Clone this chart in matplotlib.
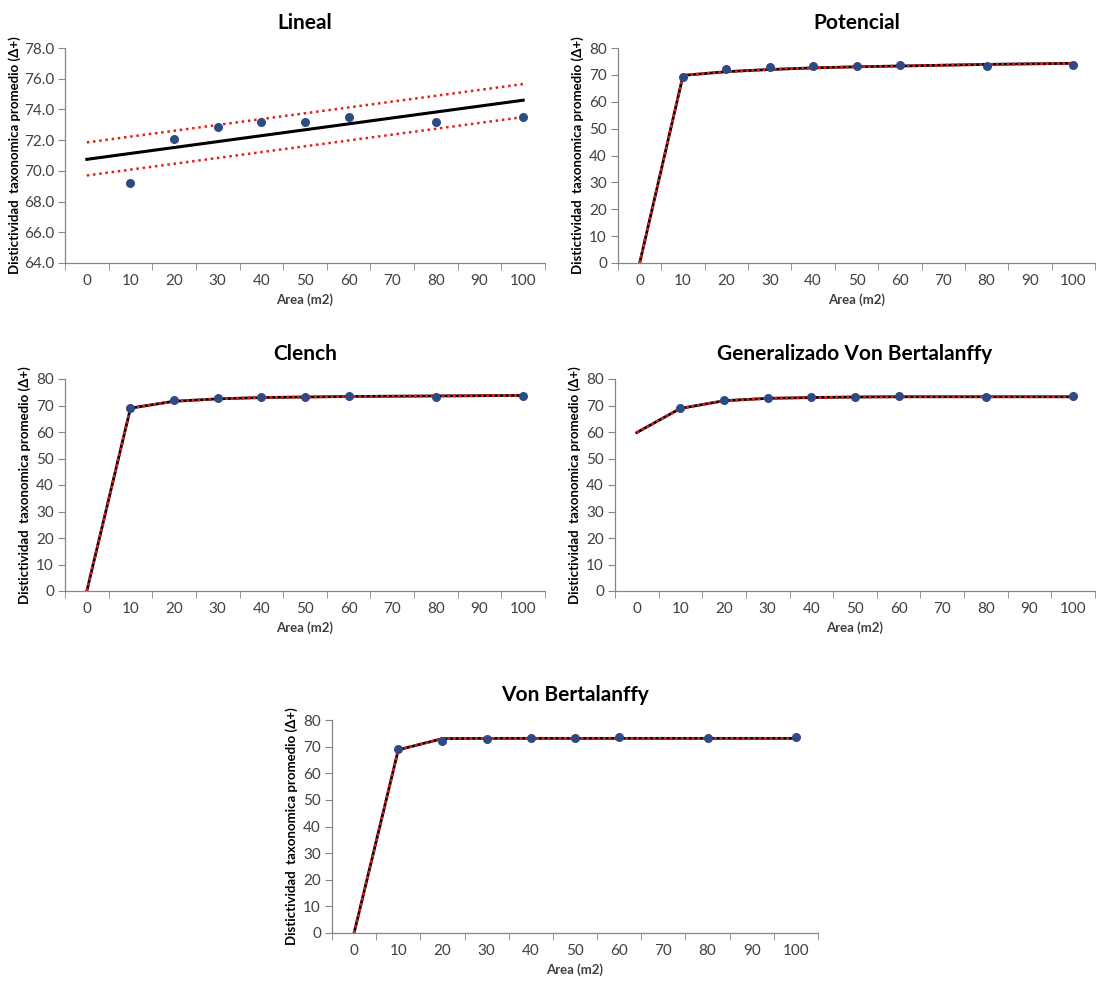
import matplotlib
matplotlib.use("Agg")
import matplotlib.pyplot as plt
from matplotlib.ticker import FormatStrFormatter

plt.rcParams['font.family'] = ['Lato', 'DejaVu Sans']

categories = [0, 10, 20, 30, 40, 50, 60, 70, 80, 90, 100]
obs_area = [10, 20, 30, 40, 50, 60, 80, 100]
obs_delta = [69.2, 72.1, 72.85, 73.15, 73.2, 73.5, 73.2, 73.5]

lineal_area = [0, 100]
lineal_fit = [70.75, 74.6]
lineal_upper = [71.85, 75.65]
lineal_lower = [69.7, 73.5]

potencial_fit = [0, 69.8, 71.2, 72.0, 72.6, 73.0, 73.3, 73.6, 73.9, 74.1, 74.3]
clench_fit = [0, 69.0, 71.6, 72.5, 73.0, 73.2, 73.4, 73.5, 73.6, 73.7, 73.8]
gvb_fit = [59.8, 68.9, 71.8, 72.7, 73.0, 73.2, 73.3, 73.3, 73.3, 73.3, 73.3]
vb_fit = [0, 68.8, 73.0, 73.1, 73.1, 73.1, 73.1, 73.1, 73.1, 73.1, 73.1]

titles = ["Lineal", "Potencial", "Clench", "Generalizado Von Bertalanffy", "Von Bertalanffy"]
ylabel = "Distictividad  taxonomica promedio (\u0394+)"
xlabel = "Area (m2)"

W, H = 1096, 981
fig = plt.figure(figsize=(W / 100, H / 100), dpi=100)

def ax_px(l, t, r, b):
    return fig.add_axes([l / W, 1 - b / H, (r - l) / W, (b - t) / H])

AX_GREY = "#868686"
TXT = "#404040"
PT = "#2E4A85"
RED = "#E0201B"

def idx(vals):
    return [categories.index(v) for v in vals]

def style(ax, title, ylim, yticks, fmt=None, ylabelpad=4):
    ax.set_xlim(-0.5, len(categories) - 0.5)
    ax.set_ylim(*ylim)
    ax.set_yticks(yticks)
    if fmt:
        ax.yaxis.set_major_formatter(FormatStrFormatter(fmt))
    ax.set_xticks(range(len(categories)))
    ax.set_xticklabels([str(c) for c in categories])
    ax.set_xticks([i - 0.5 for i in range(len(categories) + 1)], minor=True)
    ax.tick_params(axis='x', which='major', length=0, pad=8, labelsize=11, labelcolor=TXT)
    ax.tick_params(axis='x', which='minor', length=5, color=AX_GREY, direction='out')
    ax.tick_params(axis='y', length=5, color=AX_GREY, labelsize=11, labelcolor=TXT, pad=3)
    for s in ('top', 'right'):
        ax.spines[s].set_visible(False)
    for s in ('left', 'bottom'):
        ax.spines[s].set_color(AX_GREY)
        ax.spines[s].set_linewidth(0.9)
    ax.set_title(title, fontsize=15, fontweight='bold', pad=14, color='black')
    ax.set_xlabel(xlabel, fontsize=9.5, fontweight='bold', color=TXT, labelpad=4)
    ax.set_ylabel(ylabel, fontsize=9.5, fontweight='bold', color='black', labelpad=ylabelpad)

def fit_plot(ax, fit):
    xs = list(range(len(categories)))
    ax.plot(xs, fit, color='black', lw=2.0, zorder=2)
    ax.plot(xs, fit, color=RED, lw=2.0, ls=(0, (1, 1)), zorder=3)

# Lineal
ax1 = ax_px(65, 48, 545, 263)
ax1.plot(idx(lineal_area), lineal_fit, color='black', lw=2.2, zorder=2)
ax1.plot(idx(lineal_area), lineal_upper, color=RED, lw=1.8, ls=(0, (1, 1.5)), zorder=2)
ax1.plot(idx(lineal_area), lineal_lower, color=RED, lw=1.8, ls=(0, (1, 1.5)), zorder=2)
ax1.scatter(idx(obs_area), obs_delta, s=30, color=PT, zorder=4)
style(ax1, titles[0], (64, 78), [64, 66, 68, 70, 72, 74, 76, 78], '%.1f', ylabelpad=2)

yt = [0, 10, 20, 30, 40, 50, 60, 70, 80]

ax2 = ax_px(618, 48, 1095, 263)
fit_plot(ax2, potencial_fit)
ax2.scatter(idx(obs_area), obs_delta, s=30, color=PT, zorder=4)
style(ax2, titles[1], (0, 80), yt)

ax3 = ax_px(65, 379, 545, 591)
fit_plot(ax3, clench_fit)
ax3.scatter(idx(obs_area), obs_delta, s=30, color=PT, zorder=4)
style(ax3, titles[2], (0, 80), yt)

ax4 = ax_px(615, 379, 1095, 591)
fit_plot(ax4, gvb_fit)
ax4.scatter(idx(obs_area), obs_delta, s=30, color=PT, zorder=4)
style(ax4, titles[3], (0, 80), yt)

ax5 = ax_px(332, 720, 818, 933)
fit_plot(ax5, vb_fit)
ax5.scatter(idx(obs_area), obs_delta, s=30, color=PT, zorder=4)
style(ax5, titles[4], (0, 80), yt)

fig.savefig("out.png", dpi=100, facecolor='white')
